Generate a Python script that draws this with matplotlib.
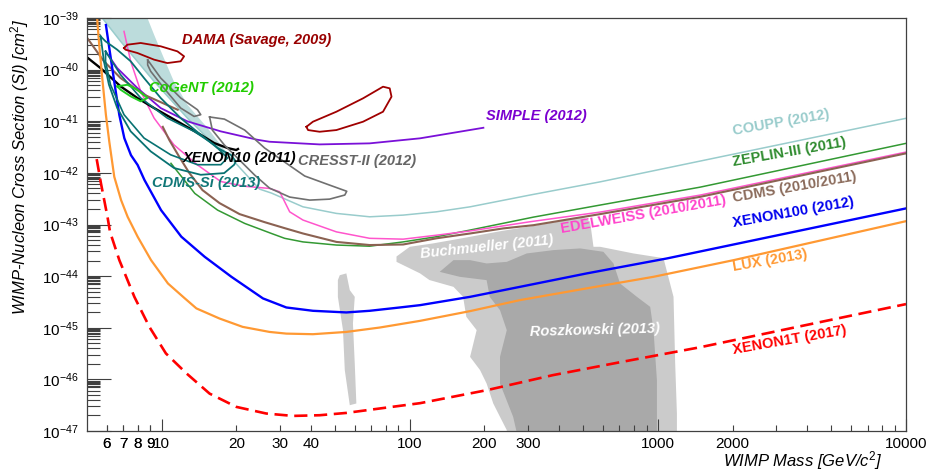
import numpy as np
import matplotlib
matplotlib.use("Agg")
import matplotlib.pyplot as plt
from matplotlib.ticker import FixedLocator, FuncFormatter, NullFormatter

plt.rcParams["font.family"] = ["Liberation Sans", "DejaVu Sans"]
plt.rcParams["mathtext.fontset"] = "custom"
plt.rcParams["mathtext.rm"] = "Liberation Sans"
plt.rcParams["mathtext.it"] = "Liberation Sans:italic"
plt.rcParams["mathtext.bf"] = "Liberation Sans:bold"

# ---- data (mass in GeV, cross section in cm^2) ----
xenon1t_m = [5.47, 5.69, 6.05, 6.19, 6.75, 7.76, 8.92, 10.4, 12.6, 15.6, 20.0, 26.4, 33.8, 43.3,
             55.5, 75.7, 110, 205, 378, 704, 1483, 10000]
xenon1t_s = [1.85e-42, 6.3e-43, 1.39e-43, 7.2e-44, 2.04e-44, 3.97e-45, 1.04e-45, 3.18e-46, 1.30e-46,
             5.3e-47, 2.93e-47, 2.18e-47, 1.96e-47, 2.02e-47, 2.24e-47, 2.73e-47, 3.46e-47, 6.2e-47,
             1.21e-46, 2.15e-46, 4.2e-46, 2.87e-45]

lux_m = [5.46, 5.60, 5.78, 5.96, 6.15, 6.44, 6.86, 7.29, 8.00, 9.06, 10.6, 12.4, 13.8, 17.1, 21.2,
         27.2, 31.8, 40.7, 55.5, 75.7, 110, 175, 278, 517, 960, 2020, 10000]
lux_s = [1.43e-39, 3.0e-40, 5.8e-41, 1.32e-41, 4.0e-42, 8.4e-43, 2.97e-43, 1.41e-43, 5.8e-44, 2.04e-44,
         7.2e-45, 3.7e-45, 2.37e-45, 1.51e-45, 1.04e-45, 8.3e-46, 7.7e-46, 7.5e-46, 8.3e-46, 1.01e-45,
         1.36e-45, 2.10e-45, 3.43e-45, 5.8e-45, 9.7e-45, 2.04e-44, 1.16e-43]

xenon100_m = [5.96, 6.15, 6.44, 6.75, 7.07, 7.52, 8.00, 8.52, 9.94, 12.0, 14.9, 19.1, 25.6, 31.8,
              40.7, 55.5, 68.9, 91.1, 110, 175, 278, 517, 1087, 10000]
xenon100_s = [7.3e-40, 2.6e-40, 5.8e-41, 1.32e-41, 4.7e-42, 2.2e-42, 1.42e-42, 7.3e-43, 1.9e-43, 5.8e-44,
              2.37e-44, 9.7e-45, 3.7e-45, 2.47e-45, 2.13e-45, 1.98e-45, 2.13e-45, 2.47e-45, 2.74e-45,
              3.97e-45, 6.2e-45, 1.13e-44, 2.2e-44, 2.05e-43]

xenon10_m = [5.0, 5.67, 6.83, 7.98, 9.32, 11.57, 14.37, 16.28, 18.42, 19.97, 20.3]
xenon10_s = [1.73e-40, 1.07e-40, 4.74e-41, 2.82e-41, 1.80e-41, 9.95e-42, 5.47e-42, 3.78e-42, 3.03e-42,
             2.77e-42, 2.9e-42]

simple_m = [5.94, 6.62, 7.98, 9.91, 12.7, 17.3, 24.3, 27.2, 43.3, 68.9, 110, 198]
simple_s = [2.26e-40, 1.07e-40, 4.40e-41, 1.80e-41, 9.95e-42, 6.37e-42, 4.38e-42, 4.01e-42, 3.56e-42,
            3.73e-42, 4.67e-42, 7.48e-42]

cdms_low_m = [5.01, 5.85, 6.83, 8.49, 11.6]
cdms_low_s = [4.09e-40, 1.45e-40, 6.87e-41, 3.27e-41, 1.67e-41]

cdms_m = [10.1, 10.74, 11.79, 12.93, 14.6, 17.1, 20.6, 26.0, 31.3, 37.1, 50.6, 68.9, 94.0, 128, 175,
          238, 315, 585, 1483, 10000]
cdms_s = [7.8e-42, 4.3e-42, 2.02e-42, 9.9e-43, 4.64e-43, 2.6e-43, 1.59e-43, 1.11e-43, 8.5e-44, 6.7e-44,
          4.6e-44, 4.0e-44, 4.1e-44, 5.4e-44, 6.7e-44, 8.4e-44, 9.7e-44, 1.59e-43, 3.44e-43, 2.39e-42]

edelweiss_m = [7.05, 7.50, 8.23, 9.32, 11.2, 13.9, 17.3, 21.6, 27.2, 29.9, 32.8, 37.1, 50.6, 68.9, 94.0,
               128, 175, 305, 585, 1483, 10000]
edelweiss_s = [5.5e-40, 1.45e-40, 3.8e-41, 1.15e-41, 3.5e-42, 1.44e-42, 6.8e-43, 5.5e-43, 5.0e-43,
               4.3e-43, 1.76e-43, 1.22e-43, 7.2e-44, 5.4e-44, 5.2e-44, 6.2e-44, 7.5e-44, 1.13e-43,
               1.74e-43, 3.72e-43, 2.53e-42]

zeplin_m = [10.9, 13.6, 16.8, 21.6, 27.7, 31.3, 37.1, 50.6, 68.9, 94.0, 128, 175, 315, 585, 1483, 10000]
zeplin_s = [1.53e-42, 4.0e-43, 1.9e-43, 1.05e-43, 6.7e-44, 5.4e-44, 4.6e-44, 4.0e-44, 3.8e-44, 4.6e-44,
            5.8e-44, 7.8e-44, 1.39e-43, 2.38e-43, 5.3e-43, 3.73e-42]

coupp_m = [5.76, 6.83, 9.32, 12.7, 16.3, 19.0, 24.8, 27.7, 37.1, 50.6, 68.9, 94.0, 128, 175, 305, 585, 10000]
coupp_s = [1.0e-39, 3.53e-40, 5.9e-41, 1.15e-41, 3.5e-42, 1.94e-42, 4.85e-43, 4.06e-43, 2.2e-43,
           1.64e-43, 1.41e-43, 1.52e-43, 1.76e-43, 2.2e-43, 3.72e-43, 6.7e-43, 1.14e-41]

band_m = [5.76, 6.83, 9.32, 12.7, 16.3, 19.0, 15.3, 12.7, 11.2, 10.2, 9.32, 8.76]
band_s = [1.0e-39, 3.53e-40, 5.9e-41, 1.15e-41, 3.5e-42, 1.94e-42, 7.4e-42, 2.09e-41, 5.9e-41, 1.68e-40,
          4.74e-40, 1.0e-39]

cogent_m = [6.62, 7.27, 7.98, 8.76, 8.23, 7.50, 6.83]
cogent_s = [4.74e-41, 5.09e-41, 4.08e-41, 2.82e-41, 2.43e-41, 3.04e-41, 4.08e-41]

dama1_m = [7.05, 7.27, 8.23, 9.91, 11.57, 12.31, 11.93, 10.54, 9.32, 7.98, 7.15]
dama1_s = [2.62e-40, 3.04e-40, 3.28e-40, 2.83e-40, 2.26e-40, 1.81e-40, 1.45e-40, 1.34e-40, 1.56e-40,
           2.10e-40, 2.43e-40]
dama2_m = [38.3, 40.7, 50.6, 64.8, 78.0, 83.0, 84.4, 78.0, 64.8, 50.6, 43.3, 38.9]
dama2_s = [7.8e-42, 9.8e-42, 1.53e-41, 2.78e-41, 4.67e-41, 4.34e-41, 2.99e-41, 1.53e-41, 9.8e-42,
           6.75e-42, 6.26e-42, 6.75e-42]

cresst1_m = [8.78, 9.91, 11.93, 13.94, 14.37, 13.51, 11.93, 10.2, 9.03, 8.78]
cresst1_s = [1.54e-40, 6.87e-41, 2.82e-41, 1.67e-41, 1.34e-41, 1.24e-41, 1.80e-41, 4.40e-41, 9.27e-41,
             1.23e-40]
cresst2_m = [15.6, 17.9, 21.6, 26.0, 31.3, 37.7, 47.5, 55.7, 54.7, 47.5, 39.5, 32.8, 27.2, 23.7, 20.6,
             17.9, 16.0]
cresst2_s = [1.21e-41, 1.10e-41, 6.75e-42, 3.03e-42, 1.62e-42, 8.7e-43, 5.8e-43, 4.4e-43, 3.72e-43,
             3.10e-43, 2.97e-43, 3.40e-43, 5.07e-43, 9.06e-43, 1.77e-42, 3.46e-42, 6.75e-42]

cdmssi_out_m = [5.67, 5.94, 6.62, 7.50, 8.49, 9.91, 11.93, 14.37, 16.79, 18.99, 19.89, 19.60, 17.86,
                14.37, 11.22, 9.03, 7.50, 6.62, 6.13, 5.85, 5.71]
cdmssi_out_s = [4.42e-40, 3.53e-40, 2.43e-40, 1.45e-40, 6.87e-41, 2.82e-41, 1.15e-41, 5.47e-42, 3.03e-42,
                2.24e-42, 1.67e-42, 1.44e-42, 9.9e-43, 9.18e-43, 1.24e-42, 2.61e-42, 6.37e-42, 1.80e-41,
                5.09e-41, 1.45e-40, 3.53e-40]
cdmssi_in_m = [5.94, 6.83, 8.23, 10.54, 13.51, 16.28, 18.42, 17.31, 13.94, 10.87, 8.49, 7.05, 6.22, 5.94]
cdmssi_in_s = [2.26e-40, 7.96e-41, 2.82e-41, 1.15e-41, 6.37e-42, 3.51e-42, 1.94e-42, 1.44e-42, 1.44e-42,
               2.24e-42, 4.72e-42, 1.34e-41, 5.09e-41, 1.45e-40]

buch_m = [88.4, 100, 124, 169, 231, 315, 429, 501, 533, 550, 585, 797, 1053, 1156, 1174, 1193, 1193,
          246, 246, 231, 217, 204, 192, 175, 186, 169, 164, 150, 120, 110, 88.4]
buch_s = [2.4e-44, 3.7e-44, 4.3e-44, 5.6e-44, 7.4e-44, 9.4e-44, 1.22e-43, 1.41e-43, 1.13e-43, 3.7e-44,
          3.7e-44, 2.75e-44, 2.23e-44, 3.97e-45, 2.03e-46, 2.18e-47, 5e-48, 5e-48, 1.04e-47, 1.88e-47,
          3.41e-47, 8.3e-47, 1.51e-46, 2.73e-46, 9.0e-46, 1.63e-45, 3.97e-45, 6.2e-45, 8.4e-45, 1.13e-44,
          1.89e-44]
buch_strip_m = [52.2, 55.5, 57.3, 60.0, 59.0, 60.0, 60.9, 57.3, 54.7, 53.8, 51.3, 51.3]
buch_strip_s = [1.04e-44, 1.13e-44, 5.35e-45, 3.97e-45, 1.21e-45, 2.03e-46, 3.41e-47, 3.16e-47,
                1.51e-46, 8.98e-46, 3.97e-45, 8.36e-45]

rosz_m = [132, 150, 175, 204, 246, 296, 379, 486, 603, 662, 704, 823, 931, 960, 991, 991, 278, 261,
          231, 231, 246, 231, 210, 204, 159]
rosz_s = [1.21e-44, 2.04e-44, 2.04e-44, 1.76e-44, 1.89e-44, 2.75e-44, 3.19e-44, 3.44e-44, 2.96e-44,
          1.76e-44, 7.2e-45, 3.97e-45, 2.54e-45, 8.98e-46, 9.64e-47, 5e-48, 5e-48, 1.88e-47, 8.3e-47,
          2.73e-46, 8.98e-46, 2.19e-45, 3.97e-45, 8.36e-45, 9.7e-45]

x_labeled = [6, 7, 8, 9, 10, 20, 30, 40, 100, 200, 300, 1000, 2000, 10000]

# ---- figure ----
W, H = 929, 473
fig = plt.figure(figsize=(W / 100, H / 100), dpi=100)
ax = fig.add_axes([87 / W, 1 - 431 / H, 819 / W, 413 / H])
ax.set_xscale("log")
ax.set_yscale("log")
ax.set_xlim(5, 10000)
ax.set_ylim(1e-47, 1e-39)

# theory regions
ax.fill(buch_m, buch_s, color="#cbcbcb", lw=0, zorder=1)
ax.fill(buch_strip_m, buch_strip_s, color="#cbcbcb", lw=0, zorder=1)
ax.fill(rosz_m, rosz_s, color="#a9a9a9", lw=0, zorder=1.1)
ax.fill(band_m, band_s, color="#bcdcdc", lw=0, zorder=1.2)

# closed contours
def loop(m, s, **kw):
    ax.plot(list(m) + [m[0]], list(s) + [s[0]], **kw)

loop(dama1_m, dama1_s, color="#a00000", lw=1.3, zorder=3)
loop(dama2_m, dama2_s, color="#a00000", lw=1.3, zorder=3)
loop(cresst1_m, cresst1_s, color="#707070", lw=1.2, zorder=3)
loop(cresst2_m, cresst2_s, color="#707070", lw=1.2, zorder=3)
loop(cdmssi_out_m, cdmssi_out_s, color="#087272", lw=1.3, zorder=3)
loop(cdmssi_in_m, cdmssi_in_s, color="#087272", lw=1.2, zorder=3)
loop(cogent_m, cogent_s, color="#22cc22", lw=1.4, zorder=3)

# limit curves
ax.plot(coupp_m, coupp_s, color="#99cccc", lw=1.1, zorder=2)
ax.plot(zeplin_m, zeplin_s, color="#339933", lw=1.1, zorder=2)
ax.plot(edelweiss_m, edelweiss_s, color="#ff55cc", lw=1.1, zorder=2)
ax.plot(cdms_m, cdms_s, color="#8b6252", lw=1.5, zorder=2.1)
ax.plot(cdms_low_m, cdms_low_s, color="#8b6252", lw=1.5, zorder=2.1)
ax.plot(simple_m, simple_s, color="#7a10d8", lw=1.3, zorder=2)
ax.plot(xenon10_m, xenon10_s, color="black", lw=1.7, zorder=2.5)
ax.plot(xenon100_m, xenon100_s, color="#0000ff", lw=1.7, zorder=2.5)
ax.plot(lux_m, lux_s, color="#ff9933", lw=1.6, zorder=2.5)
ax.plot(xenon1t_m, xenon1t_s, color="#ff0000", lw=1.9, dashes=(5, 2.5), zorder=2.5)

# labels
lab = dict(transform=ax.transAxes, fontsize=10.5, fontweight="bold", ha="left", va="center",
           rotation_mode="anchor", zorder=5)
ax.text(0.116, 0.947, "DAMA (Savage, 2009)", color="#990000", style="italic", **lab)
ax.text(0.0757, 0.831, "CoGeNT (2012)", color="#22cc00", style="italic", **lab)
ax.text(0.487, 0.763, "SIMPLE (2012)", color="#7a00d0", style="italic", **lab)
ax.text(0.117, 0.661, "XENON10 (2011)", color="black", style="italic", **lab)
ax.text(0.258, 0.654, "CRESST-II (2012)", color="#666666", style="italic", **lab)
ax.text(0.0794, 0.600, "CDMS-Si (2013)", color="#117777", style="italic", **lab)
ax.text(0.789, 0.726, "COUPP (2012)", color="#99cccc", rotation=10, **lab)
ax.text(0.789, 0.651, "ZEPLIN-III (2011)", color="#2e8b2e", rotation=10, **lab)
ax.text(0.789, 0.564, "CDMS (2010/2011)", color="#8b6b5b", rotation=10, **lab)
ax.text(0.789, 0.504, "XENON100 (2012)", color="#0000ee", rotation=10, **lab)
ax.text(0.578, 0.489, "EDELWEISS (2010/2011)", color="#ff44cc", rotation=10, **lab)
ax.text(0.407, 0.4286, "Buchmueller (2011)", color="white", style="italic", rotation=6, **lab)
ax.text(0.789, 0.397, "LUX (2013)", color="#ff9933", rotation=10, **lab)
ax.text(0.541, 0.240, "Roszkowski (2013)", color="white", style="italic", rotation=1.5, **lab)
ax.text(0.789, 0.196, "XENON1T (2017)", color="#ff0000", rotation=10, **lab)

# axes styling (ROOT-like)
for sp in ax.spines.values():
    sp.set_color("#404040")
    sp.set_linewidth(0.9)

ax.xaxis.set_major_locator(FixedLocator([10, 100, 1000, 10000]))
ax.xaxis.set_minor_locator(FixedLocator([v * d for d in (1, 10, 100, 1000) for v in range(2, 10)
                                         if v * d > 5] + [6, 7, 8, 9]))
ax.xaxis.set_major_formatter(FuncFormatter(lambda v, p: "%d" % round(v)))
ax.xaxis.set_minor_formatter(FuncFormatter(
    lambda v, p: ("%d" % round(v)) if round(v) in x_labeled else ""))

ysubs = [2, 3, 4, 5, 6, 7, 7.5, 8, 8.5, 9, 9.5]
ax.yaxis.set_major_locator(FixedLocator([10.0 ** e for e in range(-47, -38)]))
ax.yaxis.set_minor_locator(FixedLocator([s * 10.0 ** e for e in range(-47, -39) for s in ysubs]))
ax.yaxis.set_major_formatter(FuncFormatter(lambda v, p: r"$10^{%d}$" % round(np.log10(v))))
ax.yaxis.set_minor_formatter(NullFormatter())

ax.tick_params(axis="both", which="both", direction="in", colors="#404040", labelcolor="black",
               labelsize=11, width=0.8)
ax.tick_params(axis="x", which="major", length=9, pad=4)
ax.tick_params(axis="x", which="minor", length=4.5, pad=4)
ax.tick_params(axis="y", which="major", length=17, pad=6)
ax.tick_params(axis="y", which="minor", length=9)

fig.text(882 / W, 1 - 461 / H, "WIMP Mass [GeV/c$^{2}$]", ha="right", va="center",
         fontsize=12, style="italic")
fig.text(20 / W, 1 - 18 / H, "WIMP-Nucleon Cross Section (SI) [cm$^{2}$]", ha="center", va="top",
         rotation=90, fontsize=12, style="italic")

fig.savefig("out.png", dpi=100)
